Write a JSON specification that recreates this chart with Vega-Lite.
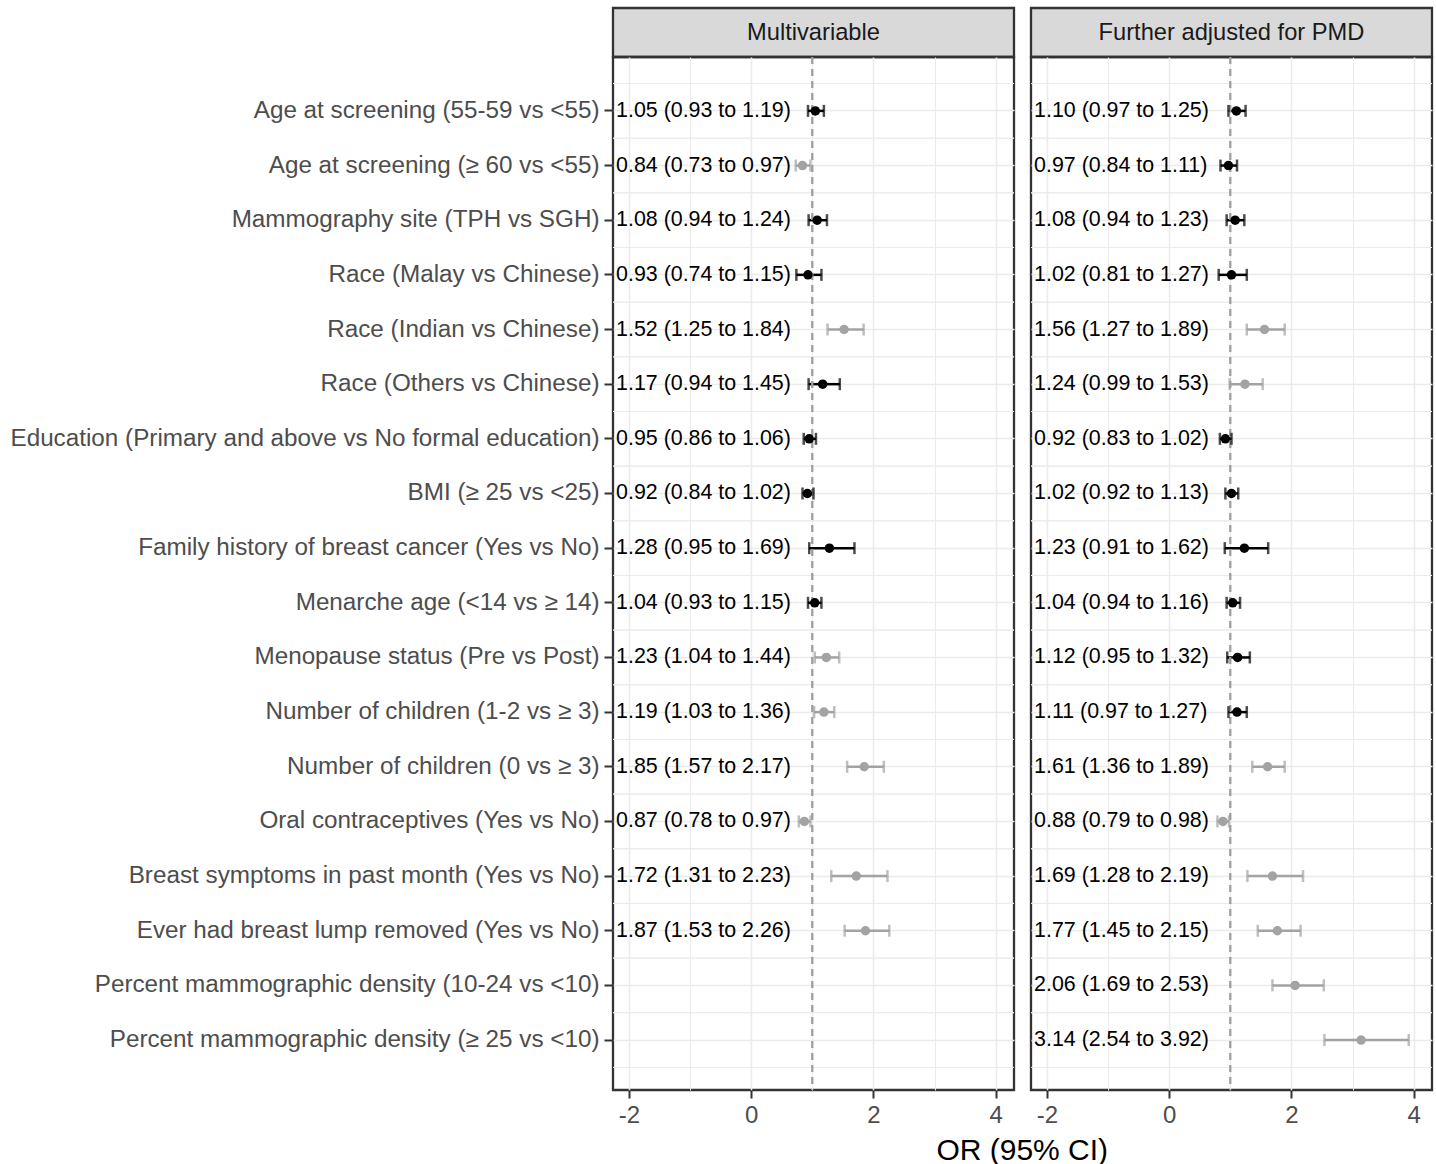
{
  "$schema": "https://vega.github.io/schema/vega-lite/v6.json",
  "padding": {"left": 8, "top": 6, "right": 2, "bottom": 4},
  "background": "white",
  "datasets": {
    "est": [
      {"model": "Multivariable", "row": 1, "var": "Age at screening (55-59 vs <55)", "or": 1.05, "lo": 0.93, "hi": 1.19, "label": "1.05 (0.93 to 1.19)", "sig": "no"},
      {"model": "Multivariable", "row": 2, "var": "Age at screening (≥ 60 vs <55)", "or": 0.84, "lo": 0.73, "hi": 0.97, "label": "0.84 (0.73 to 0.97)", "sig": "yes"},
      {"model": "Multivariable", "row": 3, "var": "Mammography site (TPH vs SGH)", "or": 1.08, "lo": 0.94, "hi": 1.24, "label": "1.08 (0.94 to 1.24)", "sig": "no"},
      {"model": "Multivariable", "row": 4, "var": "Race (Malay vs Chinese)", "or": 0.93, "lo": 0.74, "hi": 1.15, "label": "0.93 (0.74 to 1.15)", "sig": "no"},
      {"model": "Multivariable", "row": 5, "var": "Race (Indian vs Chinese)", "or": 1.52, "lo": 1.25, "hi": 1.84, "label": "1.52 (1.25 to 1.84)", "sig": "yes"},
      {"model": "Multivariable", "row": 6, "var": "Race (Others vs Chinese)", "or": 1.17, "lo": 0.94, "hi": 1.45, "label": "1.17 (0.94 to 1.45)", "sig": "no"},
      {"model": "Multivariable", "row": 7, "var": "Education (Primary and above vs No formal education)", "or": 0.95, "lo": 0.86, "hi": 1.06, "label": "0.95 (0.86 to 1.06)", "sig": "no"},
      {"model": "Multivariable", "row": 8, "var": "BMI (≥ 25 vs <25)", "or": 0.92, "lo": 0.84, "hi": 1.02, "label": "0.92 (0.84 to 1.02)", "sig": "no"},
      {"model": "Multivariable", "row": 9, "var": "Family history of breast cancer (Yes vs No)", "or": 1.28, "lo": 0.95, "hi": 1.69, "label": "1.28 (0.95 to 1.69)", "sig": "no"},
      {"model": "Multivariable", "row": 10, "var": "Menarche age (<14 vs ≥ 14)", "or": 1.04, "lo": 0.93, "hi": 1.15, "label": "1.04 (0.93 to 1.15)", "sig": "no"},
      {"model": "Multivariable", "row": 11, "var": "Menopause status (Pre vs Post)", "or": 1.23, "lo": 1.04, "hi": 1.44, "label": "1.23 (1.04 to 1.44)", "sig": "yes"},
      {"model": "Multivariable", "row": 12, "var": "Number of children (1-2 vs ≥ 3)", "or": 1.19, "lo": 1.03, "hi": 1.36, "label": "1.19 (1.03 to 1.36)", "sig": "yes"},
      {"model": "Multivariable", "row": 13, "var": "Number of children (0 vs ≥ 3)", "or": 1.85, "lo": 1.57, "hi": 2.17, "label": "1.85 (1.57 to 2.17)", "sig": "yes"},
      {"model": "Multivariable", "row": 14, "var": "Oral contraceptives (Yes vs No)", "or": 0.87, "lo": 0.78, "hi": 0.97, "label": "0.87 (0.78 to 0.97)", "sig": "yes"},
      {"model": "Multivariable", "row": 15, "var": "Breast symptoms in past month (Yes vs No)", "or": 1.72, "lo": 1.31, "hi": 2.23, "label": "1.72 (1.31 to 2.23)", "sig": "yes"},
      {"model": "Multivariable", "row": 16, "var": "Ever had breast lump removed (Yes vs No)", "or": 1.87, "lo": 1.53, "hi": 2.26, "label": "1.87 (1.53 to 2.26)", "sig": "yes"},
      {"model": "Multivariable", "row": 17, "var": "Percent mammographic density (10-24 vs <10)", "or": null, "lo": null, "hi": null, "label": "", "sig": "no"},
      {"model": "Multivariable", "row": 18, "var": "Percent mammographic density (≥ 25 vs <10)", "or": null, "lo": null, "hi": null, "label": "", "sig": "no"},
      {"model": "PMD", "row": 1, "var": "Age at screening (55-59 vs <55)", "or": 1.10, "lo": 0.97, "hi": 1.25, "label": "1.10 (0.97 to 1.25)", "sig": "no"},
      {"model": "PMD", "row": 2, "var": "Age at screening (≥ 60 vs <55)", "or": 0.97, "lo": 0.84, "hi": 1.11, "label": "0.97 (0.84 to 1.11)", "sig": "no"},
      {"model": "PMD", "row": 3, "var": "Mammography site (TPH vs SGH)", "or": 1.08, "lo": 0.94, "hi": 1.23, "label": "1.08 (0.94 to 1.23)", "sig": "no"},
      {"model": "PMD", "row": 4, "var": "Race (Malay vs Chinese)", "or": 1.02, "lo": 0.81, "hi": 1.27, "label": "1.02 (0.81 to 1.27)", "sig": "no"},
      {"model": "PMD", "row": 5, "var": "Race (Indian vs Chinese)", "or": 1.56, "lo": 1.27, "hi": 1.89, "label": "1.56 (1.27 to 1.89)", "sig": "yes"},
      {"model": "PMD", "row": 6, "var": "Race (Others vs Chinese)", "or": 1.24, "lo": 0.99, "hi": 1.53, "label": "1.24 (0.99 to 1.53)", "sig": "yes"},
      {"model": "PMD", "row": 7, "var": "Education (Primary and above vs No formal education)", "or": 0.92, "lo": 0.83, "hi": 1.02, "label": "0.92 (0.83 to 1.02)", "sig": "no"},
      {"model": "PMD", "row": 8, "var": "BMI (≥ 25 vs <25)", "or": 1.02, "lo": 0.92, "hi": 1.13, "label": "1.02 (0.92 to 1.13)", "sig": "no"},
      {"model": "PMD", "row": 9, "var": "Family history of breast cancer (Yes vs No)", "or": 1.23, "lo": 0.91, "hi": 1.62, "label": "1.23 (0.91 to 1.62)", "sig": "no"},
      {"model": "PMD", "row": 10, "var": "Menarche age (<14 vs ≥ 14)", "or": 1.04, "lo": 0.94, "hi": 1.16, "label": "1.04 (0.94 to 1.16)", "sig": "no"},
      {"model": "PMD", "row": 11, "var": "Menopause status (Pre vs Post)", "or": 1.12, "lo": 0.95, "hi": 1.32, "label": "1.12 (0.95 to 1.32)", "sig": "no"},
      {"model": "PMD", "row": 12, "var": "Number of children (1-2 vs ≥ 3)", "or": 1.11, "lo": 0.97, "hi": 1.27, "label": "1.11 (0.97 to 1.27)", "sig": "no"},
      {"model": "PMD", "row": 13, "var": "Number of children (0 vs ≥ 3)", "or": 1.61, "lo": 1.36, "hi": 1.89, "label": "1.61 (1.36 to 1.89)", "sig": "yes"},
      {"model": "PMD", "row": 14, "var": "Oral contraceptives (Yes vs No)", "or": 0.88, "lo": 0.79, "hi": 0.98, "label": "0.88 (0.79 to 0.98)", "sig": "yes"},
      {"model": "PMD", "row": 15, "var": "Breast symptoms in past month (Yes vs No)", "or": 1.69, "lo": 1.28, "hi": 2.19, "label": "1.69 (1.28 to 2.19)", "sig": "yes"},
      {"model": "PMD", "row": 16, "var": "Ever had breast lump removed (Yes vs No)", "or": 1.77, "lo": 1.45, "hi": 2.15, "label": "1.77 (1.45 to 2.15)", "sig": "yes"},
      {"model": "PMD", "row": 17, "var": "Percent mammographic density (10-24 vs <10)", "or": 2.06, "lo": 1.69, "hi": 2.53, "label": "2.06 (1.69 to 2.53)", "sig": "yes"},
      {"model": "PMD", "row": 18, "var": "Percent mammographic density (≥ 25 vs <10)", "or": 3.14, "lo": 2.54, "hi": 3.92, "label": "3.14 (2.54 to 3.92)", "sig": "yes"}
    ]
  },
  "spacing": 13,
  "hconcat": [
    {
      "spacing": 0,
      "bounds": "flush",
      "vconcat": [
        {
          "width": 401,
          "height": 49,
          "data": {"values": [{"strip": "Multivariable"}]},
          "mark": {"type": "text", "fontSize": 23.7, "font": "Liberation Sans", "color": "#1A1A1A", "baseline": "middle"},
          "encoding": {"text": {"field": "strip", "type": "nominal"}},
          "view": {"fill": "#D9D9D9", "stroke": "#333333", "strokeWidth": 2.3}
        },
        {
          "width": 401,
          "height": 1033,
          "data": {"name": "est"},
          "transform": [{"filter": "datum.model === 'Multivariable'"}],
          "layer": [
            {"mark": {"type": "rule", "color": "#EBEBEB", "strokeWidth": 1}, "encoding": {"y": {"field": "var", "type": "nominal", "sort": {"field": "row", "op": "min"}, "bandPosition": 0}}},
            {"mark": {"type": "rule", "color": "#EBEBEB", "strokeWidth": 1}, "encoding": {"y": {"field": "var", "type": "nominal", "sort": {"field": "row", "op": "min"}, "bandPosition": 1}}},
            {
              "transform": [{"filter": "isValid(datum.or)"}],
              "mark": {"type": "rule", "strokeWidth": 2.5},
              "encoding": {
                "y": {
                  "field": "var", "type": "nominal", "sort": {"field": "row", "op": "min"},
                  "scale": {"type": "band", "paddingInner": 0, "paddingOuter": 0.45, "align": 0.54},
                  "axis": {"title": null, "labelFontSize": 24.25, "labelColor": "#4D4D4D", "labelFont": "Liberation Sans", "labelLimit": 1000, "labelPadding": 5, "tickSize": 9, "tickWidth": 2, "tickColor": "#333333", "domain": false, "grid": true, "gridColor": "#EBEBEB", "gridWidth": 1.5, "bandPosition": 0.5}
                },
                "x": {"field": "lo", "type": "quantitative", "title": null, "scale": {"domain": [-2.26, 4.3], "nice": false, "zero": false},
                  "axis": {"values": [-2, -1, 0, 1, 2, 3, 4], "labelExpr": "datum.value % 2 === 0 ? toString(datum.value) : ''", "labelFontSize": 24, "labelColor": "#4D4D4D", "labelFont": "Liberation Sans", "labelPadding": 5, "tickSize": 8, "tickWidth": 2, "tickColor": {"condition": {"test": "datum.value % 2 === 0", "value": "#333333"}, "value": "transparent"}, "domain": false, "grid": true, "gridColor": "#EBEBEB", "gridWidth": {"condition": {"test": "datum.value % 2 === 0", "value": 1.5}, "value": 1}}},
                "x2": {"field": "hi"},
                "color": {"field": "sig", "type": "nominal", "scale": {"domain": ["no", "yes"], "range": ["#000000", "#A3A3A3"]}, "legend": null}
              }
            },
            {
              "data": {"values": [{"ref": 1}]},
              "mark": {"type": "rule", "color": "#9E9E9E", "strokeWidth": 2.3, "strokeDash": [7, 5]},
              "encoding": {"x": {"field": "ref", "type": "quantitative", "title": null}}
            },
            {
              "transform": [{"filter": "isValid(datum.or)"}],
              "mark": {"type": "tick", "orient": "vertical", "size": 12, "thickness": 2.5},
              "encoding": {"y": {"field": "var", "type": "nominal", "sort": {"field": "row", "op": "min"}}, "x": {"field": "lo", "type": "quantitative", "title": null}, "color": {"field": "sig", "type": "nominal", "legend": null}}
            },
            {
              "transform": [{"filter": "isValid(datum.or)"}],
              "mark": {"type": "tick", "orient": "vertical", "size": 12, "thickness": 2.5},
              "encoding": {"y": {"field": "var", "type": "nominal", "sort": {"field": "row", "op": "min"}}, "x": {"field": "hi", "type": "quantitative", "title": null}, "color": {"field": "sig", "type": "nominal", "legend": null}}
            },
            {
              "transform": [{"filter": "isValid(datum.or)"}],
              "mark": {"type": "circle", "size": 90, "opacity": 1},
              "encoding": {"y": {"field": "var", "type": "nominal", "sort": {"field": "row", "op": "min"}}, "x": {"field": "or", "type": "quantitative", "title": null}, "color": {"field": "sig", "type": "nominal", "legend": null}}
            },
            {
              "transform": [{"filter": "isValid(datum.or)"}],
              "mark": {"type": "text", "align": "left", "baseline": "middle", "fontSize": 21.4, "font": "Liberation Sans", "color": "#000000"},
              "encoding": {"y": {"field": "var", "type": "nominal", "sort": {"field": "row", "op": "min"}}, "x": {"datum": -2.21, "type": "quantitative", "title": null}, "text": {"field": "label", "type": "nominal"}}
            }
          ]
        }
      ]
    },
    {
      "spacing": 0,
      "bounds": "flush",
      "vconcat": [
        {
          "width": 401,
          "height": 49,
          "data": {"values": [{"strip": "Further adjusted for PMD"}]},
          "mark": {"type": "text", "fontSize": 23.7, "font": "Liberation Sans", "color": "#1A1A1A", "baseline": "middle"},
          "encoding": {"text": {"field": "strip", "type": "nominal"}},
          "view": {"fill": "#D9D9D9", "stroke": "#333333", "strokeWidth": 2.3}
        },
        {
          "width": 401,
          "height": 1033,
          "data": {"name": "est"},
          "transform": [{"filter": "datum.model === 'PMD'"}],
          "layer": [
            {"mark": {"type": "rule", "color": "#EBEBEB", "strokeWidth": 1}, "encoding": {"y": {"field": "var", "type": "nominal", "sort": {"field": "row", "op": "min"}, "bandPosition": 0}}},
            {"mark": {"type": "rule", "color": "#EBEBEB", "strokeWidth": 1}, "encoding": {"y": {"field": "var", "type": "nominal", "sort": {"field": "row", "op": "min"}, "bandPosition": 1}}},
            {
              "transform": [{"filter": "isValid(datum.or)"}],
              "mark": {"type": "rule", "strokeWidth": 2.5},
              "encoding": {
                "y": {
                  "field": "var", "type": "nominal", "sort": {"field": "row", "op": "min"},
                  "scale": {"type": "band", "paddingInner": 0, "paddingOuter": 0.45, "align": 0.54},
                  "axis": {"title": null, "labels": false, "ticks": false, "domain": false, "grid": true, "gridColor": "#EBEBEB", "gridWidth": 1.5, "bandPosition": 0.5}
                },
                "x": {"field": "lo", "type": "quantitative", "title": null, "scale": {"domain": [-2.26, 4.3], "nice": false, "zero": false},
                  "axis": {"values": [-2, -1, 0, 1, 2, 3, 4], "labelExpr": "datum.value % 2 === 0 ? toString(datum.value) : ''", "labelFontSize": 24, "labelColor": "#4D4D4D", "labelFont": "Liberation Sans", "labelPadding": 5, "tickSize": 8, "tickWidth": 2, "tickColor": {"condition": {"test": "datum.value % 2 === 0", "value": "#333333"}, "value": "transparent"}, "domain": false, "grid": true, "gridColor": "#EBEBEB", "gridWidth": {"condition": {"test": "datum.value % 2 === 0", "value": 1.5}, "value": 1}}},
                "x2": {"field": "hi"},
                "color": {"field": "sig", "type": "nominal", "scale": {"domain": ["no", "yes"], "range": ["#000000", "#A3A3A3"]}, "legend": null}
              }
            },
            {
              "data": {"values": [{"ref": 1}]},
              "mark": {"type": "rule", "color": "#9E9E9E", "strokeWidth": 2.3, "strokeDash": [7, 5]},
              "encoding": {"x": {"field": "ref", "type": "quantitative", "title": null}}
            },
            {
              "transform": [{"filter": "isValid(datum.or)"}],
              "mark": {"type": "tick", "orient": "vertical", "size": 12, "thickness": 2.5},
              "encoding": {"y": {"field": "var", "type": "nominal", "sort": {"field": "row", "op": "min"}}, "x": {"field": "lo", "type": "quantitative", "title": null}, "color": {"field": "sig", "type": "nominal", "legend": null}}
            },
            {
              "transform": [{"filter": "isValid(datum.or)"}],
              "mark": {"type": "tick", "orient": "vertical", "size": 12, "thickness": 2.5},
              "encoding": {"y": {"field": "var", "type": "nominal", "sort": {"field": "row", "op": "min"}}, "x": {"field": "hi", "type": "quantitative", "title": null}, "color": {"field": "sig", "type": "nominal", "legend": null}}
            },
            {
              "transform": [{"filter": "isValid(datum.or)"}],
              "mark": {"type": "circle", "size": 90, "opacity": 1},
              "encoding": {"y": {"field": "var", "type": "nominal", "sort": {"field": "row", "op": "min"}}, "x": {"field": "or", "type": "quantitative", "title": null}, "color": {"field": "sig", "type": "nominal", "legend": null}}
            },
            {
              "transform": [{"filter": "isValid(datum.or)"}],
              "mark": {"type": "text", "align": "left", "baseline": "middle", "fontSize": 21.4, "font": "Liberation Sans", "color": "#000000"},
              "encoding": {"y": {"field": "var", "type": "nominal", "sort": {"field": "row", "op": "min"}}, "x": {"datum": -2.21, "type": "quantitative", "title": null}, "text": {"field": "label", "type": "nominal"}}
            }
          ]
        }
      ]
    }
  ],
  "title": {"text": "OR (95% CI)", "orient": "bottom", "anchor": "middle", "fontSize": 30, "font": "Liberation Sans", "fontWeight": "normal", "color": "#000000", "offset": 8, "dx": 301},
  "config": {
    "view": {"stroke": "#333333", "strokeWidth": 2.3},
    "font": "Liberation Sans"
  }
}
